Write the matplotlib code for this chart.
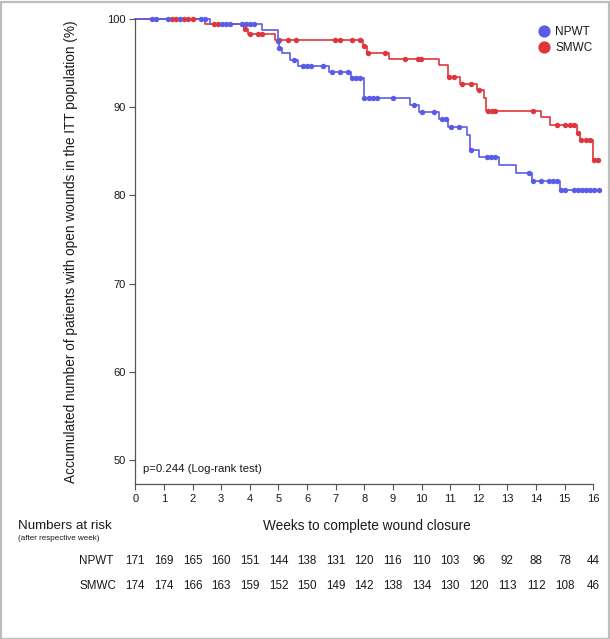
import numpy as np
import matplotlib
matplotlib.use("Agg")
import matplotlib.pyplot as plt
from matplotlib.lines import Line2D
from matplotlib.patches import Rectangle
import matplotlib.transforms as mtransforms

plt.rcParams['font.family'] = ['Liberation Sans', 'DejaVu Sans']

# ---------------- data ----------------
groups = ["NPWT", "SMWC"]
colors = {"NPWT": "#5a5ce8", "SMWC": "#e0363b"}

npwt_event_times = [2.62, 4.42, 4.97, 5.01, 5.13, 5.41, 5.70, 6.78, 7.53, 7.99,
                    9.58, 9.90, 10.60, 10.94, 11.59, 11.68, 12.00, 12.69, 13.30,
                    13.86, 14.83]
npwt_event_surv = [99.4, 98.75, 97.5, 96.75, 96.1, 95.4, 94.65, 94.0, 93.3, 91.0,
                   90.25, 89.5, 88.7, 87.8, 86.9, 85.2, 84.4, 83.5, 82.5,
                   81.6, 80.6]
npwt_censor = [0.57, 0.71, 1.13, 1.56, 2.30, 2.44, 3.02, 3.16, 3.31, 3.72, 3.86,
               4.01, 4.15, 4.98, 5.02, 5.56, 5.85, 5.99, 6.14, 6.57, 6.87, 7.16,
               7.43, 7.58, 7.72, 7.86, 8.00, 8.15, 8.29, 8.44, 9.00, 9.72, 10.01,
               10.45, 10.71, 10.86, 11.03, 11.32, 11.73, 12.29, 12.43, 12.58,
               13.74, 13.88, 14.17, 14.44, 14.59, 14.73, 14.87, 15.02, 15.31,
               15.45, 15.61, 15.75, 15.90, 16.04, 16.19]
npwt_end = 16.19

smwc_event_times = [2.44, 3.78, 3.93, 4.88, 7.97, 8.10, 8.88, 10.60, 10.91, 11.33,
                    11.94, 12.17, 12.26, 14.17, 14.47, 15.43, 15.55, 15.99]
smwc_event_surv = [99.45, 98.85, 98.25, 97.6, 96.9, 96.2, 95.5, 94.8, 93.45, 92.6,
                   91.95, 91.1, 89.6, 88.9, 88.0, 87.1, 86.3, 84.05]
smwc_censor = [1.27, 1.41, 1.70, 1.85, 2.00, 2.75, 2.90, 3.84, 4.01, 4.28, 4.42,
               5.03, 5.33, 5.62, 6.98, 7.15, 7.56, 7.86, 8.00, 8.14, 8.73, 9.43,
               9.87, 9.99, 10.97, 11.14, 11.43, 11.73, 12.02, 12.31, 12.46, 12.58,
               13.88, 14.73, 15.02, 15.17, 15.31, 15.48, 15.58, 15.75, 15.90,
               16.04, 16.18]
smwc_end = 16.18

weeks = list(range(0, 17))
npwt_at_risk = [171, 169, 165, 160, 151, 144, 138, 131, 120, 116, 110, 103, 96, 92, 88, 78, 44]
smwc_at_risk = [174, 174, 166, 163, 159, 152, 150, 149, 142, 138, 134, 130, 120, 113, 112, 108, 46]

series = {
    "NPWT": (npwt_event_times, npwt_event_surv, npwt_censor, npwt_end, npwt_at_risk),
    "SMWC": (smwc_event_times, smwc_event_surv, smwc_censor, smwc_end, smwc_at_risk),
}

# ---------------- figure ----------------
W, H = 610, 639
fig = plt.figure(figsize=(W / 100, H / 100), dpi=100)
ax = fig.add_axes([135.3 / W, 1 - 484 / H, (593.3 - 135.3) / W, (484 - 19) / H])

txt = "#1a1a1a"
spine_c = "#555555"


def step_data(times, surv, end):
    t = np.concatenate([[0.0], np.asarray(times, float), [end]])
    s = np.concatenate([[100.0], np.asarray(surv, float), [surv[-1]]])
    return t, s


def surv_at(times, surv, x):
    t = np.concatenate([[0.0], np.asarray(times, float)])
    s = np.concatenate([[100.0], np.asarray(surv, float)])
    idx = np.searchsorted(t, np.asarray(x, float), side="right") - 1
    return s[idx]


# lines (red below blue)
for g in ["SMWC", "NPWT"]:
    et, es, cen, end, _ = series[g]
    t, s = step_data(et, es, end)
    ax.step(t, s, where="post", color=colors[g], lw=1.2, clip_on=False, zorder=2)

for g in ["SMWC", "NPWT"]:
    et, es, cen, end, _ = series[g]
    ax.plot(cen, surv_at(et, es, cen), "o", color=colors[g], ms=3.9, mew=0,
            clip_on=False, zorder=3)

ax.set_xlim(0, 16)
ax.set_ylim(47.3, 100)
ax.set_xticks(weeks)
ax.set_yticks([50, 60, 70, 80, 90, 100])
for side in ["top", "right"]:
    ax.spines[side].set_visible(False)
for side in ["left", "bottom"]:
    ax.spines[side].set_color(spine_c)
    ax.spines[side].set_linewidth(0.9)
ax.spines["left"].set_bounds(47.3, 100)
ax.tick_params(axis="both", colors=spine_c, labelcolor=txt, labelsize=8.0,
               length=4, width=0.8, pad=3)

ax.set_ylabel("Accumulated number of patients with open wounds in the ITT population (%)",
              fontsize=9.8, color=txt, labelpad=10)
ax.yaxis.set_label_coords((78.5 - 135.3) / (593.3 - 135.3), 0.5)

ax.text(0.28, 49.0, "p=0.244 (Log-rank test)", fontsize=8.2, color=txt,
        va="center", ha="left")

# legend
handles = [Line2D([], [], marker="o", ls="none", color=colors[g], ms=8.8, mew=0)
           for g in groups]
leg = fig.legend(handles, groups, loc="upper left", frameon=False, fontsize=8.5,
                 bbox_to_anchor=(538 / W, 1 - 26 / H), handlelength=1.0,
                 handletextpad=0.45, labelspacing=0.35, borderpad=0.0,
                 borderaxespad=0.0)
for t in leg.get_texts():
    t.set_color(txt)

# x label & risk table
fig.text(367 / W, 1 - 526 / H, "Weeks to complete wound closure", fontsize=9.8,
         color=txt, ha="center", va="center")
fig.text(18 / W, 1 - 526 / H, "Numbers at risk", fontsize=9.6, color=txt,
         ha="left", va="center")
fig.text(18 / W, 1 - 539 / H, "(after respective week)", fontsize=5.8, color=txt,
         ha="left", va="center")

trans = mtransforms.blended_transform_factory(ax.transData, fig.transFigure)
row_y = {"NPWT": 1 - 561 / H, "SMWC": 1 - 586 / H}
for g in groups:
    fig.text(79 / W, row_y[g], g, fontsize=8.4, color=txt, ha="left", va="center")
    for wk, n in zip(weeks, series[g][4]):
        ax.text(wk, row_y[g], str(n), transform=trans, fontsize=8.4, color=txt,
                ha="center", va="center", clip_on=False)

# figure frame
fig.patches.append(Rectangle((0.001, 0.0), 0.997, 0.997, transform=fig.transFigure,
                             fill=False, edgecolor="#bdbdbd", lw=1.6))

fig.savefig("out.png", dpi=100)
